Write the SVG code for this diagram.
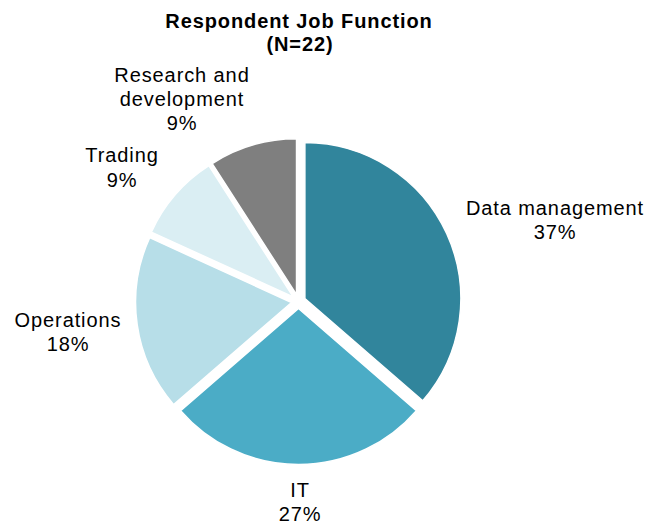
<svg xmlns="http://www.w3.org/2000/svg" width="646" height="527" viewBox="0 0 646 527">
<style>
.lbl{font-family:"Liberation Sans",Arial,sans-serif;font-size:20px;fill:#000;text-anchor:middle;letter-spacing:0.9px}
.ttl{font-family:"Liberation Sans",Arial,sans-serif;font-size:20px;font-weight:bold;fill:#000;text-anchor:middle;letter-spacing:0.9px}
.slice{stroke:#fff;stroke-width:1.5;stroke-linejoin:miter}
</style>
<rect width="646" height="527" fill="#fff"/>
<g id="title">
<text class="ttl" x="299" y="28">Respondent Job Function</text>
<text class="ttl" x="300" y="51">(N=22)</text>
</g>
<g id="slice-data-management">
<path class="slice" fill="#31859C" d="M304.87,298.59 L304.87,142.59 A156,156 0 0 1 422.76,400.75 Z"/>
<text class="lbl" x="555" y="215">Data management</text>
<text class="lbl" x="555" y="239">37%</text>
</g>
<g id="slice-it">
<path class="slice" fill="#4BACC6" d="M298.5,308.5 L416.39,410.66 A156,156 0 0 1 180.61,410.66 Z"/>
<text class="lbl" x="300" y="497">IT</text>
<text class="lbl" x="300" y="521">27%</text>
</g>
<g id="slice-operations">
<path class="slice" fill="#B7DEE8" d="M291.57,302.5 L173.68,404.66 A156,156 0 0 1 149.67,237.69 Z"/>
<text class="lbl" x="68" y="327">Operations</text>
<text class="lbl" x="68" y="351">18%</text>
</g>
<g id="slice-trading">
<path class="slice" fill="#DAEEF3" d="M293.21,296.92 L151.31,232.11 A156,156 0 0 1 208.87,165.68 Z"/>
<text class="lbl" x="122" y="162">Trading</text>
<text class="lbl" x="122" y="187">9%</text>
</g>
<g id="slice-research">
<path class="slice" fill="#7F7F7F" d="M296.53,294.78 L212.19,163.54 A156,156 0 0 1 296.53,138.78 Z"/>
<text class="lbl" x="182" y="82">Research and</text>
<text class="lbl" x="182" y="106">development</text>
<text class="lbl" x="182" y="130">9%</text>
</g>
<g id="connectors"></g>
</svg>
